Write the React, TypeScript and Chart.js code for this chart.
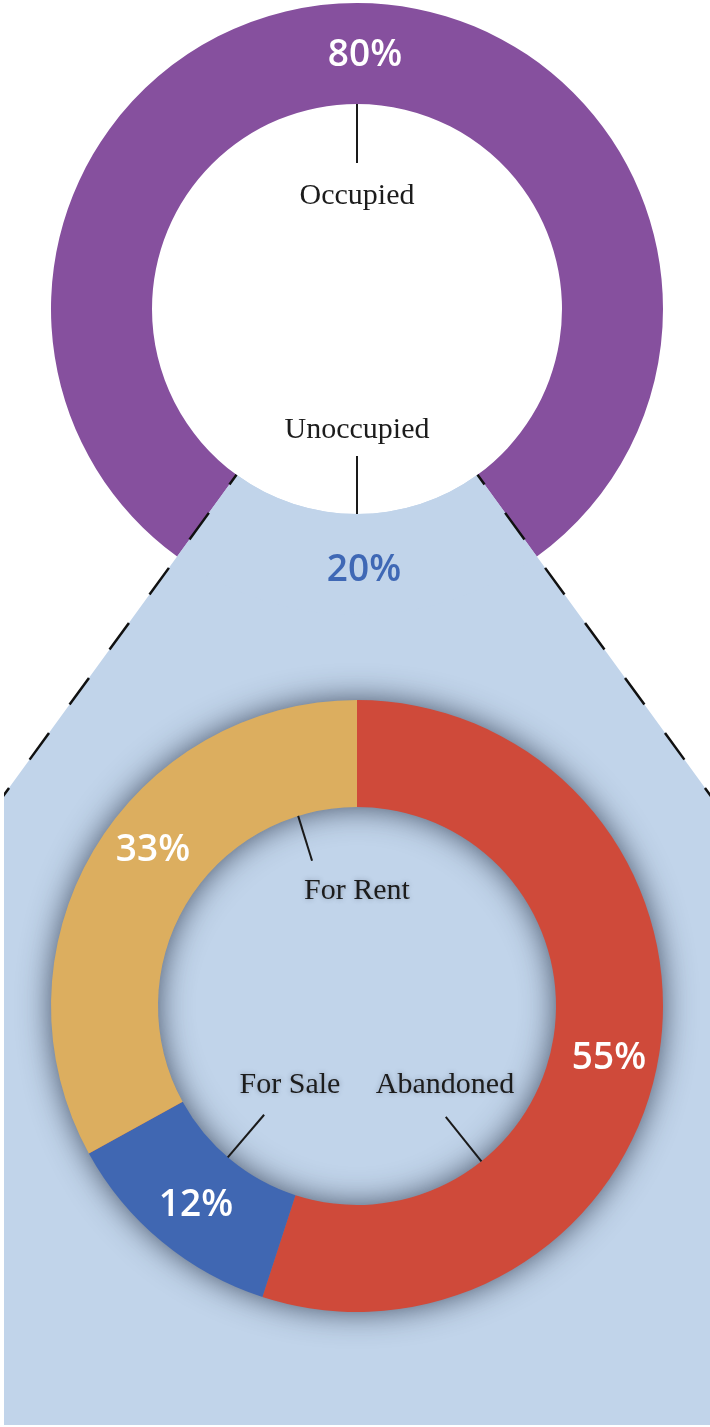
import React, { useEffect, useRef } from "react";
import { Chart, registerables } from "chart.js";

Chart.register(...registerables);

// ---- data ----
const occupancyLabels = ["Occupied", "Unoccupied"];
const occupancyValues = [80, 20];
const occupancyColors = ["#86509e", "#c1d4ea"];
const occupancyPctColors = ["#ffffff", "#3f68b5"];

const vacancyLabels = ["Abandoned", "For Sale", "For Rent"];
const vacancyValues = [55, 12, 33];
const vacancyColors = ["#cf4a3a", "#4067b2", "#dcae5f"];

// ---- layout (relative to each doughnut's centre) ----
const W = 710;
const H = 1427;
const SERIF = '"Liberation Serif", "Times New Roman", serif';
const SANS = '"Open Sans", "Noto Sans", sans-serif';

// percent label: centre-x offset, baseline offset
const occupancyPctPos = [
  [8, -243],
  [7, 272],
];
const vacancyPctPos = [
  [252, 63],
  [-161, 210],
  [-204, -145],
];
// name label: centre-x offset, baseline offset, leader angle (deg), leader inner radius
const occupancyNamePos = [
  [0, -105, -90, 146],
  [0, 129, 90, 147],
];
const vacancyNamePos = [
  [88, 87, 51.3, 142],
  [-67, 87, 130.5, 143],
  [0, -107, 252.8, 152],
];

const rad = (d: number) => (d * Math.PI) / 180;

function drawLabels(
  chart: any,
  labels: string[],
  values: number[],
  pctPos: number[][],
  pctColors: string[],
  namePos: number[][],
  nameShadow: boolean
) {
  const ctx = chart.ctx as CanvasRenderingContext2D;
  const a0 = chart.getDatasetMeta(0).data[0] as any;
  const cx = a0.x;
  const cy = a0.y;
  const ir = a0.innerRadius;
  ctx.save();
  // leader lines
  ctx.strokeStyle = "#1a1a1a";
  ctx.lineWidth = 2;
  namePos.forEach((p) => {
    const ang = rad(p[2]);
    ctx.beginPath();
    ctx.moveTo(cx + ir * Math.cos(ang), cy + ir * Math.sin(ang));
    ctx.lineTo(cx + p[3] * Math.cos(ang), cy + p[3] * Math.sin(ang));
    ctx.stroke();
  });
  // names
  ctx.textAlign = "center";
  ctx.textBaseline = "alphabetic";
  ctx.font = `30px ${SERIF}`;
  ctx.fillStyle = "#1c1c1c";
  if (nameShadow) {
    ctx.shadowColor = "rgba(40,50,70,0.35)";
    ctx.shadowBlur = 5;
  }
  labels.forEach((l, i) => {
    const p = namePos[i];
    ctx.fillText(l, cx + p[0], cy + p[1]);
  });
  ctx.shadowColor = "transparent";
  ctx.shadowBlur = 0;
  // percents
  ctx.font = `600 37px ${SANS}`;
  values.forEach((v, i) => {
    const p = pctPos[i];
    ctx.fillStyle = pctColors[i];
    ctx.fillText(`${v}%`, cx + p[0], cy + p[1]);
  });
  ctx.restore();
}

export default function App() {
  const topRef = useRef<HTMLCanvasElement>(null);
  const botRef = useRef<HTMLCanvasElement>(null);

  useEffect(() => {
    const wedgePlugin = {
      id: "wedge",
      beforeDatasetsDraw(chart: any) {
        const ctx = chart.ctx as CanvasRenderingContext2D;
        const arc = chart.getDatasetMeta(0).data[1] as any;
        const { x, y, startAngle: s, endAngle: e, innerRadius: ir } = arc;
        const far = 4000;
        ctx.save();
        ctx.beginPath();
        ctx.rect(4, 0, W - 4, 1425);
        ctx.clip();
        ctx.beginPath();
        ctx.moveTo(x + ir * Math.cos(s), y + ir * Math.sin(s));
        ctx.lineTo(x + far * Math.cos(s), y + far * Math.sin(s));
        ctx.lineTo(x + far * Math.cos(e), y + far * Math.sin(e));
        ctx.lineTo(x + ir * Math.cos(e), y + ir * Math.sin(e));
        ctx.arc(x, y, ir, e, s, true);
        ctx.closePath();
        ctx.fillStyle = occupancyColors[1];
        ctx.fill();
        ctx.restore();
      },
      afterDatasetsDraw(chart: any) {
        const ctx = chart.ctx as CanvasRenderingContext2D;
        const arc = chart.getDatasetMeta(0).data[1] as any;
        const { x, y, startAngle: s, endAngle: e, innerRadius: ir } = arc;
        const far = 4000;
        ctx.save();
        ctx.beginPath();
        ctx.rect(4, 0, W - 4, 1425);
        ctx.clip();
        ctx.strokeStyle = "#111";
        ctx.lineWidth = 2.5;
        ctx.setLineDash([33, 35]);
        ctx.lineDashOffset = 21;
        [s, e].forEach((a: number) => {
          ctx.beginPath();
          ctx.moveTo(x + ir * Math.cos(a), y + ir * Math.sin(a));
          ctx.lineTo(x + far * Math.cos(a), y + far * Math.sin(a));
          ctx.stroke();
        });
        ctx.restore();
      },
      afterDraw(chart: any) {
        drawLabels(
          chart,
          occupancyLabels,
          occupancyValues,
          occupancyPctPos,
          occupancyPctColors,
          occupancyNamePos,
          false
        );
      },
    };

    const shadowPlugin = {
      id: "ringShadow",
      beforeDatasetsDraw(chart: any) {
        const ctx = chart.ctx as CanvasRenderingContext2D;
        const a0 = chart.getDatasetMeta(0).data[0] as any;
        const { x, y, innerRadius: ir, outerRadius: or } = a0;
        ctx.save();
        ctx.shadowColor = "rgba(30,40,60,0.8)";
        ctx.shadowBlur = 32;
        ctx.beginPath();
        ctx.arc(x, y, or - 1, 0, Math.PI * 2);
        ctx.moveTo(x + ir + 1, y);
        ctx.arc(x, y, ir + 1, 0, Math.PI * 2, true);
        ctx.fillStyle = "#c86a4c";
        ctx.fill("evenodd");
        ctx.restore();
      },
      afterDraw(chart: any) {
        drawLabels(
          chart,
          vacancyLabels,
          vacancyValues,
          vacancyPctPos,
          ["#ffffff", "#ffffff", "#ffffff"],
          vacancyNamePos,
          true
        );
      },
    };

    const top = new Chart(topRef.current as HTMLCanvasElement, {
      type: "doughnut",
      data: {
        labels: occupancyLabels,
        datasets: [
          {
            data: occupancyValues,
            backgroundColor: occupancyColors,
            borderWidth: 0,
            hoverOffset: 0,
          },
        ],
      },
      options: {
        responsive: false,
        maintainAspectRatio: false,
        animation: false,
        events: [],
        rotation: -144,
        cutout: 205,
        radius: 306,
        layout: { padding: { left: 51, right: 47, top: 3, bottom: 812 } },
        plugins: { legend: { display: false }, tooltip: { enabled: false } },
      } as any,
      plugins: [wedgePlugin],
    });

    const bot = new Chart(botRef.current as HTMLCanvasElement, {
      type: "doughnut",
      data: {
        labels: vacancyLabels,
        datasets: [
          {
            data: vacancyValues,
            backgroundColor: vacancyColors,
            borderWidth: 0,
            hoverOffset: 0,
          },
        ],
      },
      options: {
        responsive: false,
        maintainAspectRatio: false,
        animation: false,
        events: [],
        rotation: 0,
        cutout: 199,
        radius: 306,
        layout: { padding: { left: 51, right: 47, top: 700, bottom: 115 } },
        plugins: { legend: { display: false }, tooltip: { enabled: false } },
      } as any,
      plugins: [shadowPlugin],
    });

    return () => {
      top.destroy();
      bot.destroy();
    };
  }, []);

  const cstyle: React.CSSProperties = {
    position: "absolute",
    left: 0,
    top: 0,
    width: W,
    height: H,
    display: "block",
  };

  return (
    <div
      style={{
        position: "absolute",
        left: 0,
        top: 0,
        width: W,
        height: H,
        background: "#ffffff",
        overflow: "hidden",
      }}
    >
      <canvas ref={topRef} width={W} height={H} style={cstyle} />
      <canvas ref={botRef} width={W} height={H} style={cstyle} />
    </div>
  );
}
